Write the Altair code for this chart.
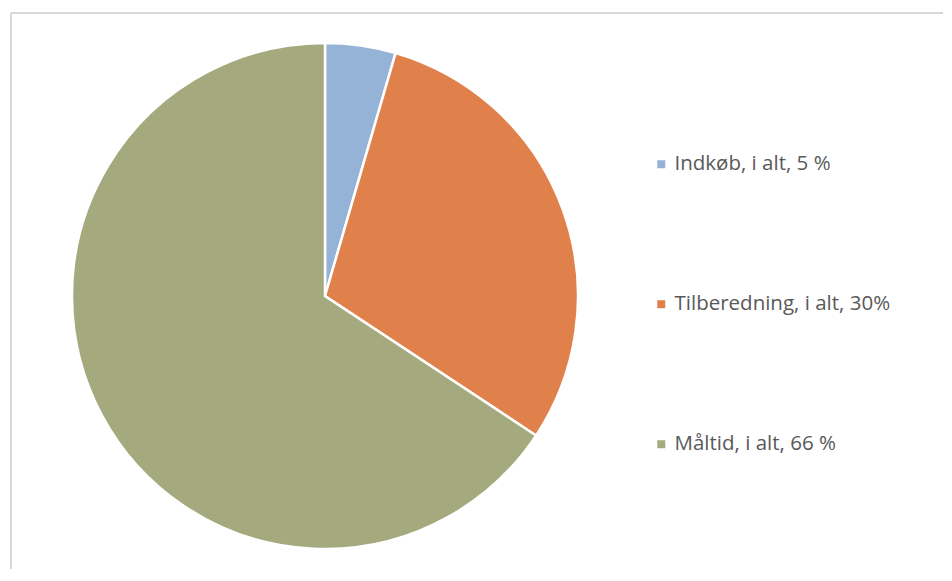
import altair as alt
import pandas as pd

categories = ["Indkøb, i alt, 5 %", "Tilberedning, i alt, 30%", "Måltid, i alt, 66 %"]
values = [4.5, 29.8, 65.7]
colors = ["#95b3d6", "#e0804a", "#a5aa7e"]
order = [1, 2, 3]

W, H = 932, 556

df = pd.DataFrame({"cat": categories, "val": values, "ord": order})

pie = alt.Chart(df).mark_arc(radius=253, stroke="white", strokeWidth=2.5).encode(
    theta=alt.Theta("val:Q", stack=True),
    order=alt.Order("ord:Q"),
    color=alt.Color(
        "cat:N",
        scale=alt.Scale(domain=categories, range=colors),
        sort=categories,
        legend=alt.Legend(
            title=None,
            orient="none",
            legendX=640,
            legendY=141,
            symbolType="square",
            symbolSize=64,
            symbolStrokeWidth=0,
            labelFontSize=20.5,
            labelFont="Open Sans",
            labelColor="#595959",
            labelOffset=3,
            labelLimit=0,
            rowPadding=119,
        ),
    ),
    x=alt.value(314),
    y=alt.value(283),
)

top_rule = alt.Chart(df).mark_rule(color="#d9d9d9", strokeWidth=2).encode(
    x=alt.value(0), x2=alt.value(W), y=alt.value(0)
)
left_rule = alt.Chart(df).mark_rule(color="#d9d9d9", strokeWidth=2).encode(
    x=alt.value(0), y=alt.value(0), y2=alt.value(H)
)

chart = alt.layer(top_rule, left_rule, pie).properties(
    width=W, height=H, padding={"left": 2, "top": 4, "right": 0, "bottom": 0}
).configure_view(
    strokeWidth=0
)

chart.save("out.html", embed_options={"renderer": "svg", "actions": False})
